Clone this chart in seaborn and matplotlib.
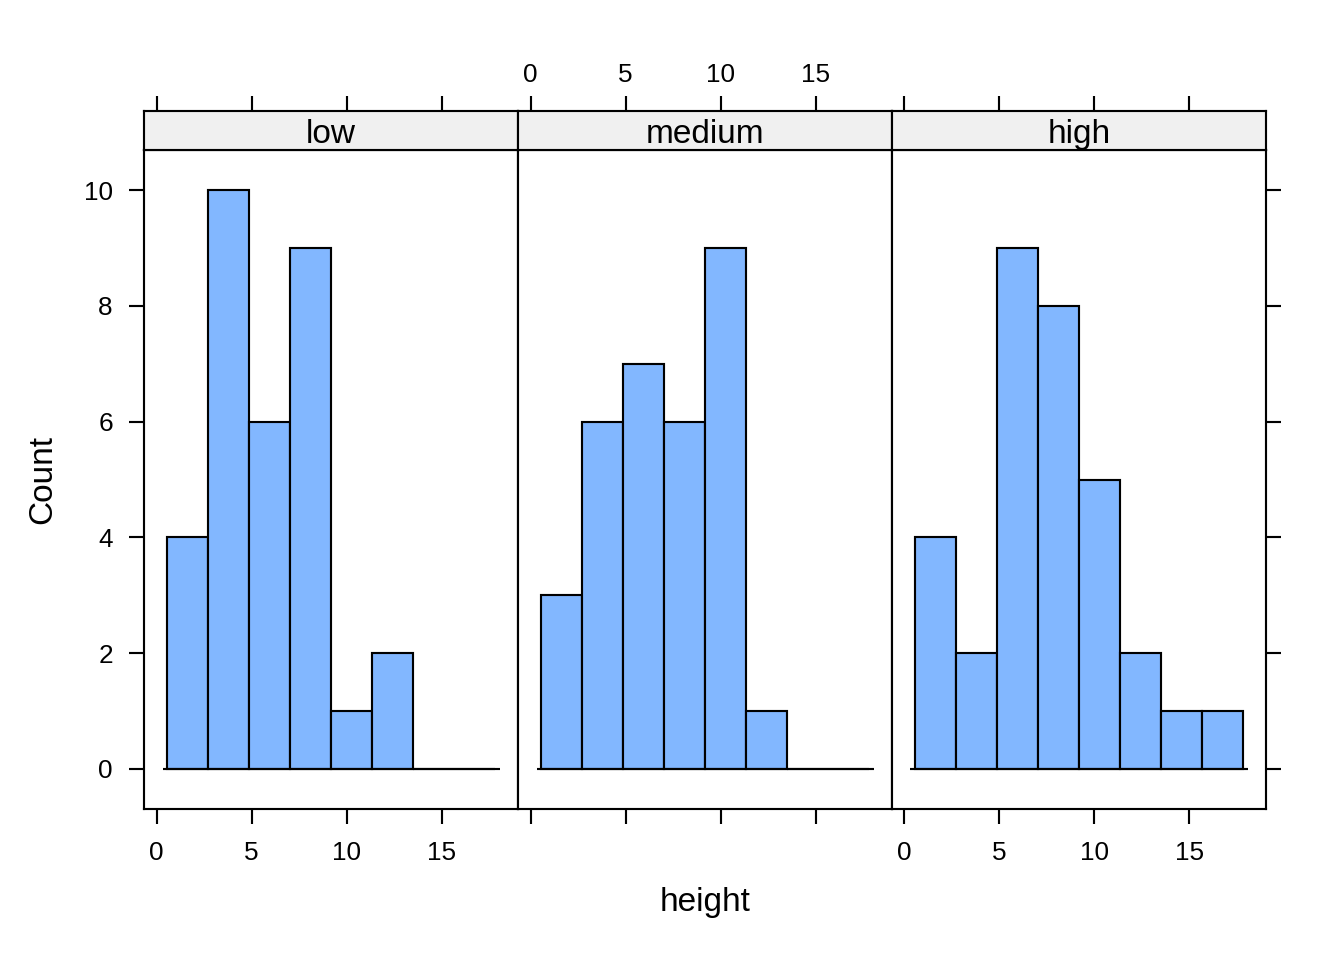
"""
Lattice-style histogram of height by group, three panels side by side.
"""

import pandas as pd
import numpy as np
import seaborn as sns
import matplotlib.pyplot as plt

# Data
GROUPS = ['low', 'medium', 'high']
BIN_EDGES = [0.56, 2.72, 4.88, 7.03, 9.19, 11.35, 13.51, 15.66, 17.82]
COUNTS_LOW = [4, 10, 6, 9, 1, 2, 0, 0]
COUNTS_MEDIUM = [3, 6, 7, 6, 9, 1, 0, 0]
COUNTS_HIGH = [4, 2, 9, 8, 5, 2, 1, 1]
X_TICKS = [0, 5, 10, 15]
Y_TICKS = [0, 2, 4, 6, 8, 10]

BAR_COLOR = '#82B7FF'
STRIP_COLOR = '#F0F0F0'

sns.set_theme(style='white')
plt.rcParams['font.family'] = ['Liberation Sans', 'DejaVu Sans']
plt.rcParams['axes.linewidth'] = 0.8

# ----------------------------------------------------------------------------
# Build a long table: one row per bin, weighted by its count
# ----------------------------------------------------------------------------
edges = np.array(BIN_EDGES)
centers = (edges[:-1] + edges[1:]) / 2
rows = []
for grp, counts in zip(GROUPS, [COUNTS_LOW, COUNTS_MEDIUM, COUNTS_HIGH]):
    for c, n in zip(centers, counts):
        rows.append({'group': grp, 'height': c, 'count': n})
df = pd.DataFrame(rows)

span = edges[-1] - edges[0]
xlim = (edges[0] - 0.07 * span, edges[-1] + 0.07 * span)
ylim = (-0.7, 10.7)

g = sns.FacetGrid(df, col='group', col_order=GROUPS, sharex=True, sharey=True,
                  height=5, aspect=0.5)
g.map_dataframe(sns.histplot, x='height', weights='count', bins=BIN_EDGES,
                color=BAR_COLOR, edgecolor='black', linewidth=0.8, alpha=1)

fig = g.figure
fig.set_size_inches(7, 5)

W, H = 1344.0, 960.0
left_px, right_px = 144.3, 1266.0
top_px, bottom_px = 149.7, 809.3
strip_top_px = 111.3
panel_w = (right_px - left_px) / 3

tick_kw = dict(direction='out', length=5.8, width=0.8, color='black',
               labelsize=9.8, labelcolor='black')

for i, (ax, grp) in enumerate(zip(g.axes.flat, GROUPS)):
    ax.set_position([(left_px + i * panel_w) / W, 1 - bottom_px / H,
                     panel_w / W, (bottom_px - top_px) / H])
    ax.set_xlim(xlim)
    ax.set_ylim(ylim)
    ax.set_title('')
    ax.set_xlabel('')
    ax.set_ylabel('')
    ax.set_xticks(X_TICKS)
    ax.set_yticks(Y_TICKS)
    ax.hlines(0, edges[0] - 0.014 * span, edges[-1] + 0.014 * span,
              color='black', linewidth=0.8, zorder=3)
    for sp in ax.spines.values():
        sp.set_visible(True)
        sp.set_color('black')
        sp.set_linewidth(0.8)

    ax.tick_params(axis='x', bottom=True, top=False, labelbottom=(i != 1),
                   labeltop=False, pad=6, **tick_kw)
    ax.tick_params(axis='y', left=(i == 0), right=(i == 2),
                   labelleft=(i == 0), labelright=False, pad=6, **tick_kw)

    # strip on top of each panel, carrying the upper x ticks
    sax = fig.add_axes([(left_px + i * panel_w) / W, 1 - top_px / H,
                        panel_w / W, (top_px - strip_top_px) / H])
    sax.set_facecolor(STRIP_COLOR)
    sax.set_xlim(xlim)
    sax.set_ylim(0, 1)
    sax.set_xticks(X_TICKS)
    sax.set_yticks([])
    sax.xaxis.set_ticks_position('top')
    sax.tick_params(axis='x', top=True, bottom=False, labeltop=(i == 1),
                    labelbottom=False, pad=3.5, **tick_kw)
    for sp in sax.spines.values():
        sp.set_visible(True)
        sp.set_color('black')
        sp.set_linewidth(0.8)
    sax.text(0.5, 0.4, grp, transform=sax.transAxes, ha='center',
             va='center', fontsize=12.5, color='black')

fig.text(43 / W, 1 - (top_px + bottom_px) / 2 / H, 'Count', rotation=90,
         ha='center', va='center', fontsize=12.5, color='black')
fig.text((left_px + right_px) / 2 / W, 1 - 902 / H, 'height',
         ha='center', va='center', fontsize=12.5, color='black')

fig.savefig('out.png', dpi=192, facecolor='white')
